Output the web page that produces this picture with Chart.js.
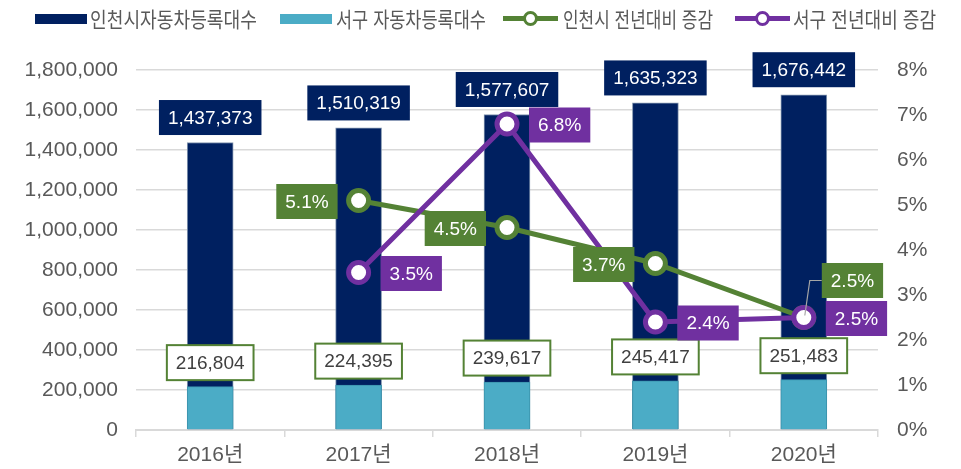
<!DOCTYPE html>
<html lang="ko">
<head>
<meta charset="utf-8">
<script src="https://cdn.jsdelivr.net/npm/chart.js@4.4.1/dist/chart.umd.min.js"></script>
<style>
body { margin:0; background:#fff; }
#wrap { position:relative; width:961px; height:469px; }
#wrap canvas { position:absolute; left:0; top:0; }
.mk { position:absolute; }
.lt { position:absolute; top:5px; font-family:"Noto Sans CJK KR", sans-serif; font-size:21px; line-height:27px; color:#595959; white-space:nowrap; transform-origin:left center; }
.ln { position:absolute; top:16px; height:5px; }
.dot { position:absolute; top:11px; width:9px; height:9px; border-radius:50%; background:#fff; border:3px solid; }
</style>
</head>
<body>
<div id="wrap">
	<canvas id="chart" width="961" height="469"></canvas>
	<div class="mk" style="left:35px;top:14px;width:52px;height:10px;background:#002060"></div>
	<span class="lt" data-w="167" style="left:90px">인천시자동차등록대수</span>
	<div class="mk" style="left:280px;top:14px;width:52px;height:10px;background:#4BACC6"></div>
	<span class="lt" data-w="150" style="left:336px">서구 자동차등록대수</span>
	<div class="ln" style="left:503px;width:55px;background:#548235"></div>
	<div class="dot" style="left:523px;border-color:#548235"></div>
	<span class="lt" data-w="150" style="left:563px">인천시 전년대비 증감</span>
	<div class="ln" style="left:735px;width:55px;background:#7030A0"></div>
	<div class="dot" style="left:755px;border-color:#7030A0"></div>
	<span class="lt" data-w="143" style="left:793px">서구 전년대비 증감</span>
</div>
<script>
const years = ['2016년', '2017년', '2018년', '2019년', '2020년'];
const incheonCars = [1437373, 1510319, 1577607, 1635323, 1676442];
const seoguCars = [216804, 224395, 239617, 245417, 251483];
const incheonYoY = [null, 5.1, 4.5, 3.7, 2.5];
const seoguYoY = [null, 3.5, 6.8, 2.4, 2.5];

const NAVY = '#002060', TEAL = '#4BACC6', GREEN = '#548235', PURPLE = '#7030A0';
const TXT = '#595959';
const FONT = '"Liberation Sans", "Noto Sans CJK KR", sans-serif';

// squeeze legend text to the condensed width of the original
document.querySelectorAll('.lt').forEach(el => {
	const w = el.getBoundingClientRect().width;
	el.style.transform = `scaleX(${(+el.dataset.w / w).toFixed(3)})`;
});

function fmt(v) { return v.toLocaleString('en-US'); }

function box(ctx, cx, cy, text, fill, stroke, color) {
	ctx.font = `19px ${FONT}`;
	const w = ctx.measureText(text).width + 18, h = 35;
	const x = cx - w / 2, y = cy - h / 2;
	ctx.fillStyle = fill;
	ctx.fillRect(x, y, w, h);
	if (stroke) {
		ctx.strokeStyle = stroke;
		ctx.lineWidth = 2;
		ctx.strokeRect(x, y, w, h);
	}
	ctx.fillStyle = color;
	ctx.textAlign = 'center';
	ctx.textBaseline = 'middle';
	ctx.fillText(text, cx, cy + 1);
	return w;
}

function labelWidth(ctx, text) { ctx.font = `19px ${FONT}`; return ctx.measureText(text).width + 18; }

const labelPlugin = {
	id: 'labels',
	afterDatasetsDraw(chart) {
		const ctx = chart.ctx;
		ctx.save();
		// bar value boxes
		chart.getDatasetMeta(0).data.forEach((el, i) => {
			box(ctx, el.x, el.y - 25, fmt(incheonCars[i]), NAVY, null, '#fff');
		});
		chart.getDatasetMeta(1).data.forEach((el, i) => {
			box(ctx, el.x, el.y - 24, fmt(seoguCars[i]), '#fff', GREEN, '#404040');
		});
		// Incheon YoY: left of point, last one up-right with leader line
		chart.getDatasetMeta(2).data.forEach((el, i) => {
			const v = incheonYoY[i];
			if (v == null) return;
			const t = v.toFixed(1) + '%';
			const w = labelWidth(ctx, t);
			if (i === years.length - 1) {
				ctx.strokeStyle = '#A6A6A6';
				ctx.lineWidth = 1.2;
				ctx.beginPath();
				ctx.moveTo(el.x + 1, el.y - 2);
				ctx.lineTo(el.x + 6, el.y - 37);
				ctx.lineTo(el.x + 18, el.y - 37);
				ctx.stroke();
				box(ctx, el.x + 18 + w / 2, el.y - 37, t, GREEN, null, '#fff');
			} else {
				box(ctx, el.x - 21 - w / 2, el.y + 1, t, GREEN, null, '#fff');
			}
		});
		// Seo-gu YoY: right of point
		chart.getDatasetMeta(3).data.forEach((el, i) => {
			const v = seoguYoY[i];
			if (v == null) return;
			const t = v.toFixed(1) + '%';
			const w = labelWidth(ctx, t);
			box(ctx, el.x + 22 + w / 2, el.y + 1, t, PURPLE, null, '#fff');
		});
		ctx.restore();
	}
};

new Chart(document.getElementById('chart'), {
	type: 'bar',
	data: {
		labels: years,
		datasets: [
			{ label: '인천시자동차등록대수', data: incheonCars, backgroundColor: NAVY, borderColor: '#8497B0', borderWidth: 1, barThickness: 46, grouped: false, yAxisID: 'y', order: 5 },
			{ label: '서구 자동차등록대수', data: seoguCars, backgroundColor: TEAL, borderColor: '#3B93AC', borderWidth: 1, barThickness: 46, grouped: false, yAxisID: 'y', order: 4 },
			{ type: 'line', label: '인천시 전년대비 증감', data: incheonYoY, borderColor: GREEN, borderWidth: 5, pointRadius: 10, pointBorderWidth: 5, pointBackgroundColor: '#fff', pointBorderColor: GREEN, yAxisID: 'y1', order: 2 },
			{ type: 'line', label: '서구 전년대비 증감', data: seoguYoY, borderColor: PURPLE, borderWidth: 5, pointRadius: 10, pointBorderWidth: 5, pointBackgroundColor: '#fff', pointBorderColor: PURPLE, yAxisID: 'y1', order: 1 }
		]
	},
	options: {
		responsive: false,
		animation: false,
		layout: { padding: { top: 70, left: 0, right: 0, bottom: 0 } },
		plugins: { legend: { display: false }, tooltip: { enabled: false } },
		scales: {
			x: {
				offset: true,
				grid: { drawOnChartArea: false, drawTicks: true, tickLength: 7, color: '#D9D9D9', lineWidth: 1.5, offset: true },
				border: { display: true, color: '#D9D9D9', width: 2 },
				ticks: { color: TXT, font: { family: FONT, size: 21 }, padding: 6 },
				afterFit(s) { s.height = 39; }
			},
			y: {
				position: 'left',
				min: 0, max: 1800000,
				grid: { color: '#D9D9D9', lineWidth: 1.5, drawTicks: false },
				border: { display: false },
				ticks: { stepSize: 200000, color: TXT, font: { family: FONT, size: 21 }, padding: 18, callback: v => fmt(v) },
				afterFit(s) { s.width = 136; }
			},
			y1: {
				position: 'right',
				min: 0, max: 8,
				grid: { drawOnChartArea: false, drawTicks: false },
				border: { display: false },
				ticks: { stepSize: 1, color: TXT, font: { family: FONT, size: 21 }, padding: 19, callback: v => v + '%' },
				afterFit(s) { s.width = 83; }
			}
		}
	},
	plugins: [labelPlugin]
});
</script>
</body>
</html>
